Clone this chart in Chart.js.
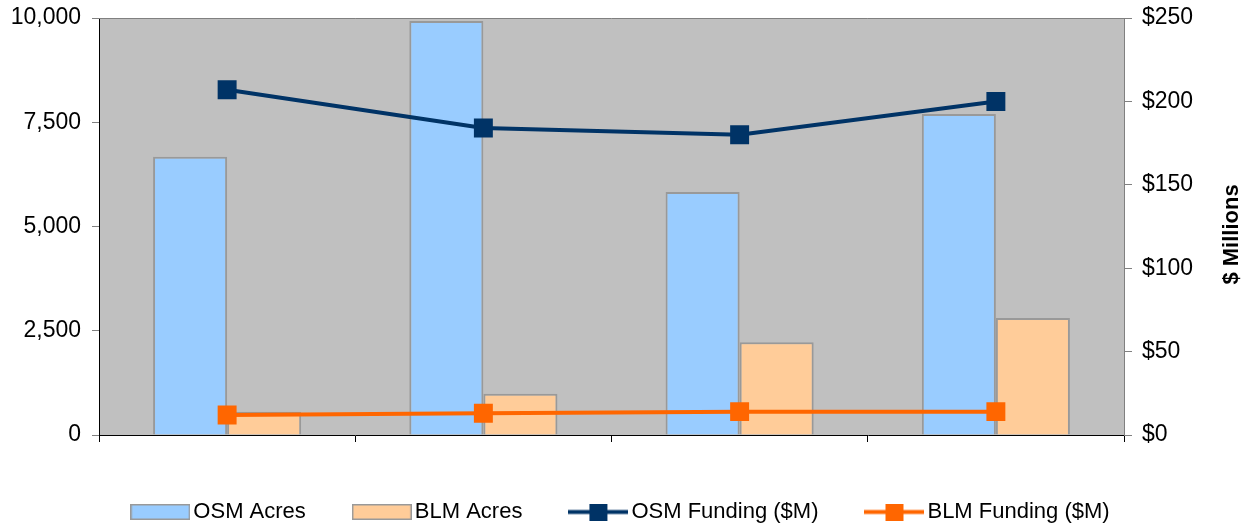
<!DOCTYPE html>
<html>
<head>
<meta charset="utf-8">
<script src="https://cdn.jsdelivr.net/npm/chart.js@4.4.0/dist/chart.umd.min.js"></script>
<style>
  html, body { margin: 0; padding: 0; background: #ffffff; }
  #wrap { width: 1248px; height: 525px; }
</style>
</head>
<body>
<div id="wrap"><canvas id="chart" width="1248" height="525"></canvas></div>
<script>
// categories have no visible labels in the source chart
var categories = ["", "", "", ""];

var osmAcres = [6670, 9930, 5830, 7700];
var blmAcres = [560, 990, 2225, 2805];

var osmFunding = [207, 184, 180, 200];
var blmFunding = [12, 13, 14, 14];

var acreTicks = [0, 2500, 5000, 7500, 10000];
var dollarTicks = [0, 50, 100, 150, 200, 250];

var seriesNames = ["OSM Acres", "BLM Acres", "OSM Funding ($M)", "BLM Funding ($M)"];

var FONT = "'Liberation Sans', Arial, sans-serif";

function makeBoxImage(fill) {
  var c = document.createElement("canvas");
  c.width = 60;
  c.height = 16;
  var ctx = c.getContext("2d");
  ctx.fillStyle = fill;
  ctx.fillRect(0, 0, 60, 16);
  ctx.strokeStyle = "#999999";
  ctx.lineWidth = 1.5;
  ctx.strokeRect(0.75, 0.75, 58.5, 14.5);
  return c;
}

function makeLineImage(color) {
  var c = document.createElement("canvas");
  c.width = 60;
  c.height = 17;
  var ctx = c.getContext("2d");
  ctx.fillStyle = color;
  ctx.fillRect(0, 6.5, 60, 4);
  ctx.fillRect(21, 0, 18, 17);
  return c;
}

var legendImages = [
  makeBoxImage("#99CCFF"),
  makeBoxImage("#FFCC99"),
  makeLineImage("#003366"),
  makeLineImage("#FF6600"),
];

// vertical axes should not push the plot down for their half-label overhang
function fixAxisWidth(width) {
  return function (scale) {
    scale.width = width;
    scale.paddingTop = 0;
    scale.paddingBottom = 0;
  };
}

var plotBackground = {
  id: "plotBackground",
  beforeInit: function (chart) {
    // keep the legend strip a fixed height so the plot bottom lands where it should
    var legend = chart.legend;
    if (legend) {
      var fit = legend.fit;
      legend.fit = function () {
        fit.call(legend);
        legend.height = 78;
      };
    }
  },
  beforeDraw: function (chart) {
    var a = chart.chartArea;
    var ctx = chart.ctx;
    ctx.save();
    ctx.fillStyle = "#C0C0C0";
    ctx.fillRect(a.left, a.top, a.right - a.left, a.bottom - a.top);
    ctx.restore();
  },
  beforeDatasetsDraw: function (chart) {
    var a = chart.chartArea;
    var ctx = chart.ctx;
    ctx.save();
    ctx.strokeStyle = "#808080";
    ctx.lineWidth = 1;
    ctx.beginPath();
    ctx.moveTo(a.left, a.top + 0.5);
    ctx.lineTo(a.right, a.top + 0.5);
    ctx.stroke();
    ctx.restore();
  },
  afterDraw: function (chart) {
    var y1 = chart.scales.y1;
    var ctx = chart.ctx;
    ctx.save();
    ctx.translate(1232, (y1.top + y1.bottom) / 2 + 8);
    ctx.rotate(-Math.PI / 2);
    ctx.font = "bold 22px " + FONT;
    ctx.fillStyle = "#000000";
    ctx.textAlign = "center";
    ctx.textBaseline = "middle";
    ctx.fillText("$ Millions", 0, 0);
    ctx.restore();
  },
};

var barStyle = {
  borderColor: "#999999",
  borderWidth: 2,
  categoryPercentage: 0.578,
  barPercentage: 1,
  order: 2,
};

new Chart(document.getElementById("chart"), {
  type: "bar",
  data: {
    labels: categories,
    datasets: [
      Object.assign({ type: "bar", label: seriesNames[0], data: osmAcres, backgroundColor: "#99CCFF", yAxisID: "y" }, barStyle),
      Object.assign({ type: "bar", label: seriesNames[1], data: blmAcres, backgroundColor: "#FFCC99", yAxisID: "y" }, barStyle),
      {
        type: "line",
        label: seriesNames[2],
        data: osmFunding,
        yAxisID: "y1",
        borderColor: "#003366",
        backgroundColor: "#003366",
        borderWidth: 4,
        pointStyle: "rect",
        pointRadius: 13.4,
        pointBorderWidth: 0,
        pointBackgroundColor: "#003366",
        tension: 0,
        order: 1,
      },
      {
        type: "line",
        label: seriesNames[3],
        data: blmFunding,
        yAxisID: "y1",
        borderColor: "#FF6600",
        backgroundColor: "#FF6600",
        borderWidth: 4,
        pointStyle: "rect",
        pointRadius: 13.4,
        pointBorderWidth: 0,
        pointBackgroundColor: "#FF6600",
        tension: 0,
        order: 0,
      },
    ],
  },
  options: {
    responsive: false,
    animation: false,
    devicePixelRatio: 1,
    layout: { padding: { top: 18, left: 0, right: 0, bottom: 0 } },
    plugins: {
      tooltip: { enabled: false },
      legend: {
        position: "bottom",
        labels: {
          usePointStyle: true,
          pointStyleWidth: 44,
          padding: 54,
          color: "#000000",
          font: { family: FONT, size: 22 },
          generateLabels: function (chart) {
            return chart.data.datasets.map(function (ds, i) {
              return {
                text: ds.label,
                pointStyle: legendImages[i],
                datasetIndex: i,
                hidden: !chart.isDatasetVisible(i),
                fontColor: "#000000",
                lineWidth: 0,
              };
            });
          },
        },
      },
    },
    scales: {
      x: {
        offset: true,
        grid: { offset: true, drawOnChartArea: false, color: "#000000", tickLength: 7 },
        border: { color: "#000000", width: 1 },
        ticks: { display: false },
        afterFit: function (scale) {
          scale.height = 12;
        },
      },
      y: {
        position: "left",
        min: 0,
        max: 10000,
        afterBuildTicks: function (scale) {
          scale.ticks = acreTicks.map(function (v) { return { value: v }; });
        },
        grid: { drawOnChartArea: false, color: "#808080", tickLength: 7 },
        border: { color: "#000000", width: 1 },
        ticks: {
          padding: 11,
          color: "#000000",
          font: { family: FONT, size: 23 },
          callback: function (v) {
            return Number(v).toLocaleString("en-US");
          },
        },
        afterFit: fixAxisWidth(99),
      },
      y1: {
        position: "right",
        min: 0,
        max: 250,
        afterBuildTicks: function (scale) {
          scale.ticks = dollarTicks.map(function (v) { return { value: v }; });
        },
        grid: { drawOnChartArea: false, color: "#808080", tickLength: 8 },
        border: { color: "#808080", width: 1 },
        ticks: {
          padding: 10,
          color: "#000000",
          font: { family: FONT, size: 23 },
          callback: function (v) {
            return "$" + v;
          },
        },
        afterFit: fixAxisWidth(124),
      },
    },
  },
  plugins: [plotBackground],
});
</script>
</body>
</html>
